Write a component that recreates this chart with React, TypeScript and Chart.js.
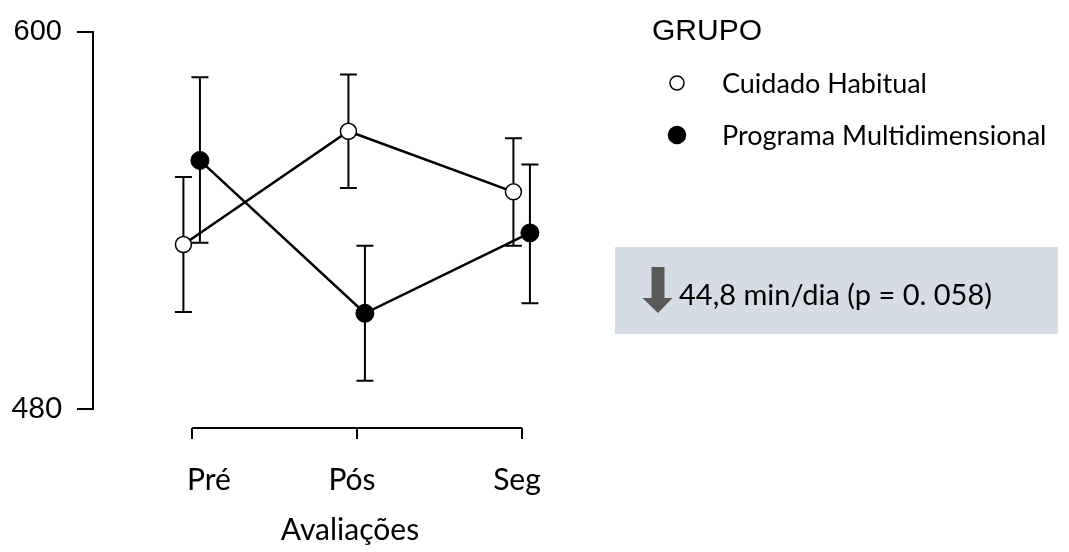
import React, { useEffect, useRef } from "react";
import { Chart, registerables } from "chart.js";

Chart.register(...registerables);

const categories = ["Pré", "Pós", "Seg"];
const groups = ["Cuidado Habitual", "Programa Multidimensional"];
const cuidadoMean = [532.4, 568.5, 549.2];
const cuidadoLower = [510.9, 550.4, 532.0];
const cuidadoUpper = [553.9, 586.6, 566.3];
const programaMean = [559.2, 510.5, 536.1];
const programaLower = [533.0, 489.0, 513.7];
const programaUpper = [585.7, 532.0, 557.9];
const yTicks = [480, 600];
const yMin = 480;
const yMax = 600;
const xTitle = "Avaliações";
const legendTitle = "GRUPO";
const noteText = "44,8 min/dia (p = 0. 058)";

const CAL = "Lato, 'Open Sans', sans-serif";
const ARIAL = "'Liberation Sans', Arial, sans-serif";
const dodge = [-0.052, 0.048];

const means = [cuidadoMean, programaMean];
const lowers = [cuidadoLower, programaLower];
const uppers = [cuidadoUpper, programaUpper];

const overlay = {
  id: "overlay",
  beforeDatasetsDraw(chart: any) {
    const { ctx } = chart;
    const xs = chart.scales.x;
    const ys = chart.scales.y;
    ctx.save();
    ctx.strokeStyle = "#000";
    ctx.lineWidth = 2;
    for (let g = 0; g < groups.length; g++) {
      for (let i = 0; i < categories.length; i++) {
        const x = xs.getPixelForValue(i + 1 + dodge[g]);
        const yl = ys.getPixelForValue(lowers[g][i]);
        const yu = ys.getPixelForValue(uppers[g][i]);
        ctx.beginPath();
        ctx.moveTo(x, yl);
        ctx.lineTo(x, yu);
        ctx.moveTo(x - 8.5, yl);
        ctx.lineTo(x + 8.5, yl);
        ctx.moveTo(x - 8.5, yu);
        ctx.lineTo(x + 8.5, yu);
        ctx.stroke();
      }
    }
    ctx.restore();
  },
  afterDraw(chart: any) {
    const { ctx } = chart;
    const xs = chart.scales.x;
    ctx.save();
    // x axis
    const x0 = xs.getPixelForValue(1);
    const x1 = xs.getPixelForValue(categories.length);
    const yAx = 428;
    ctx.strokeStyle = "#000";
    ctx.lineWidth = 2;
    ctx.beginPath();
    ctx.moveTo(x0, yAx);
    ctx.lineTo(x1, yAx);
    categories.forEach((_, i) => {
      const x = xs.getPixelForValue(i + 1);
      ctx.moveTo(x, yAx);
      ctx.lineTo(x, yAx + 11);
    });
    ctx.stroke();
    ctx.fillStyle = "#000";
    ctx.font = `30px ${CAL}`;
    ctx.textAlign = "center";
    ctx.textBaseline = "alphabetic";
    const shift = [17, -5, -5];
    categories.forEach((c, i) => {
      ctx.fillText(c, xs.getPixelForValue(i + 1) + shift[i], 490);
    });
    ctx.font = `30px ${CAL}`;
    ctx.fillText(xTitle, (x0 + x1) / 2 - 7, 540);

    // legend
    ctx.textAlign = "left";
    ctx.font = `30px ${ARIAL}`;
    ctx.fillText(legendTitle, 652, 40);
    ctx.font = `27px ${CAL}`;
    const rows = [93, 145];
    groups.forEach((g, k) => {
      const cy = rows[k] - 10;
      ctx.beginPath();
      ctx.arc(677, cy, k === 0 ? 7 : 8.5, 0, Math.PI * 2);
      ctx.fillStyle = k === 0 ? "#fff" : "#000";
      ctx.fill();
      ctx.lineWidth = 1.5;
      ctx.strokeStyle = "#000";
      ctx.stroke();
      ctx.fillStyle = "#000";
      ctx.fillText(g, 722, rows[k]);
    });

    // note box
    ctx.fillStyle = "#D6DCE5";
    ctx.fillRect(615, 247, 443, 87);
    ctx.fillStyle = "#595959";
    ctx.beginPath();
    ctx.moveTo(651.5, 267);
    ctx.lineTo(664.5, 267);
    ctx.lineTo(664.5, 298);
    ctx.lineTo(672.5, 298);
    ctx.lineTo(658, 313);
    ctx.lineTo(642.5, 298);
    ctx.lineTo(651.5, 298);
    ctx.closePath();
    ctx.fill();
    ctx.fillStyle = "#000";
    ctx.font = `29px ${CAL}`;
    ctx.fillText(noteText, 679, 305);
    ctx.restore();
  },
};

export default function App() {
  const ref = useRef<HTMLCanvasElement | null>(null);
  useEffect(() => {
    if (!ref.current) return;
    const mk = (g: number) =>
      means[g].map((v, i) => ({ x: i + 1 + dodge[g], y: v }));
    const chart = new Chart(ref.current, {
      type: "line",
      data: {
        datasets: [
          {
            label: groups[0],
            data: mk(0),
            borderColor: "#000",
            borderWidth: 2.5,
            pointRadius: 8,
            pointBackgroundColor: "#fff",
            pointBorderColor: "#000",
            pointBorderWidth: 1.5,
            tension: 0,
            clip: false as any,
          },
          {
            label: groups[1],
            data: mk(1),
            borderColor: "#000",
            borderWidth: 2.5,
            pointRadius: 9,
            pointBackgroundColor: "#000",
            pointBorderColor: "#000",
            pointBorderWidth: 1,
            tension: 0,
            clip: false as any,
          },
        ],
      },
      options: {
        responsive: false,
        animation: false,
        devicePixelRatio: 1,
        layout: { padding: { left: 0, top: 24, right: 448, bottom: 143 } },
        plugins: { legend: { display: false }, tooltip: { enabled: false } },
        scales: {
          x: { type: "linear", display: false, min: 0.4, max: 3.6 },
          y: {
            type: "linear",
            min: yMin,
            max: yMax,
            afterBuildTicks: (s: any) => {
              s.ticks = yTicks.map((v) => ({ value: v }));
            },
            afterFit: (s: any) => {
              s.width = 93;
            },
            border: { display: true, color: "#000", width: 2 },
            grid: {
              display: true,
              drawOnChartArea: false,
              drawTicks: true,
              tickLength: 16,
              color: "#000",
              lineWidth: 2,
            },
            ticks: {
              padding: 15,
              color: "#000",
              callback: (v: any) => String(v),
              font: (c: any) =>
                c.tick && c.tick.value === 600
                  ? { family: ARIAL, size: 29 }
                  : { family: CAL, size: 29 },
            },
          },
        },
      },
      plugins: [overlay],
    });
    return () => chart.destroy();
  }, []);
  return (
    <div style={{ position: "fixed", left: 0, top: 0, width: 1069, height: 552, background: "#fff" }}>
      <canvas ref={ref} width={1069} height={552} style={{ width: 1069, height: 552 }} />
    </div>
  );
}
